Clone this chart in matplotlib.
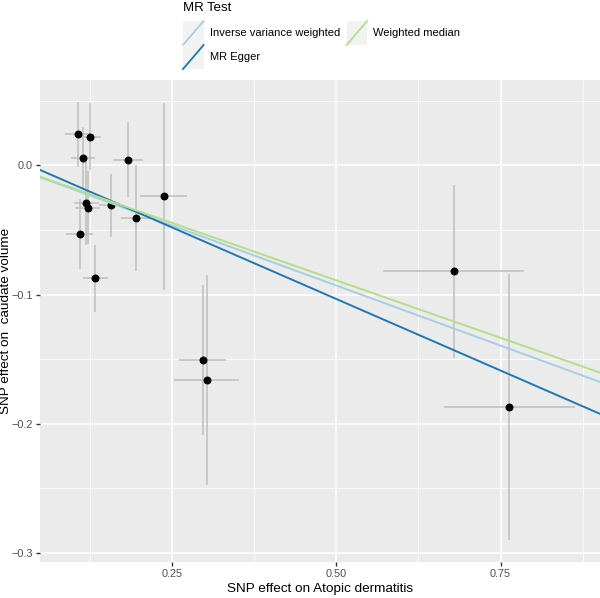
import matplotlib.pyplot as plt
from matplotlib.legend_handler import HandlerBase
from matplotlib.lines import Line2D
from matplotlib.patches import Rectangle
from matplotlib.ticker import MultipleLocator, FuncFormatter

plt.rcParams['font.family'] = ['Liberation Sans', 'DejaVu Sans']

# SNP effects on exposure (Atopic dermatitis) and outcome (caudate volume)
beta_exp = [0.107, 0.125, 0.115, 0.183, 0.238, 0.195, 0.157, 0.120, 0.122, 0.110,
            0.134, 0.679, 0.763, 0.297, 0.303]
beta_out = [0.024, 0.022, 0.0054, 0.0044, -0.024, -0.0406, -0.031, -0.0295, -0.0328,
            -0.0532, -0.0876, -0.082, -0.187, -0.151, -0.166]
se_exp = [0.0186, 0.0178, 0.0178, 0.023, 0.0356, 0.0218, 0.018, 0.019, 0.0196, 0.0208,
          0.019, 0.107, 0.0996, 0.036, 0.05]
se_out = [0.025, 0.026, 0.0245, 0.0288, 0.0725, 0.041, 0.0245, 0.032, 0.028, 0.027,
          0.0256, 0.0668, 0.103, 0.058, 0.081]

# MR estimates: method, intercept, slope, colour
methods = ['Inverse variance weighted', 'MR Egger', 'Weighted median']
intercepts = [0.0, 0.0074, 0.0]
slopes = [-0.186, -0.2216, -0.178]
colors = ['#a6cee3', '#1f78b4', '#b2df8a']


class DiagHandler(HandlerBase):
    # ggplot-style abline key: grey box with a diagonal line
    def create_artists(self, legend, orig_handle, xdescent, ydescent, width, height, fontsize, trans):
        x0, y0 = -xdescent, -ydescent
        bg = Rectangle((x0, y0), width, height, facecolor='#F2F2F2', edgecolor='none', transform=trans)
        ln = Line2D([x0, x0 + width], [y0, y0 + height], color=orig_handle.get_color(),
                    lw=1.3, transform=trans)
        return [bg, ln]


fig = plt.figure(figsize=(6, 5.98), dpi=100)
ax = fig.add_axes([40 / 600, 36 / 598, 560 / 600, 482 / 598])
ax.set_facecolor('#EBEBEB')

ax.errorbar(beta_exp, beta_out, yerr=se_out, fmt='none', ecolor='#BEBEBE', elinewidth=1.1, zorder=2)
ax.errorbar(beta_exp, beta_out, xerr=se_exp, fmt='none', ecolor='#BEBEBE', elinewidth=1.1, zorder=2)
ax.scatter(beta_exp, beta_out, s=22, color='black', zorder=3)

# ggplot-like 5% expansion of the data range
x_lo = min(b - s for b, s in zip(beta_exp, se_exp))
x_hi = max(b + s for b, s in zip(beta_exp, se_exp))
y_lo = min(b - s for b, s in zip(beta_out, se_out))
y_hi = max(b + s for b, s in zip(beta_out, se_out))
ax.set_xlim(x_lo - 0.05 * (x_hi - x_lo), x_hi + 0.05 * (x_hi - x_lo))
ax.set_ylim(y_lo - 0.05 * (y_hi - y_lo), y_hi + 0.05 * (y_hi - y_lo))
ax.set_autoscale_on(False)

handles = []
for m, a, b, c in zip(methods, intercepts, slopes, colors):
    ax.axline((0, a), slope=b, color=c, lw=1.4, zorder=4)
    handles.append(Line2D([], [], color=c, label=m))

ax.xaxis.set_major_locator(MultipleLocator(0.25))
ax.xaxis.set_minor_locator(MultipleLocator(0.125))
ax.yaxis.set_major_locator(MultipleLocator(0.1))
ax.yaxis.set_minor_locator(MultipleLocator(0.05))
ax.xaxis.set_major_formatter(FuncFormatter(lambda v, p: f'{v:.2f}'))
ax.yaxis.set_major_formatter(FuncFormatter(lambda v, p: f'{v:.1f}'.replace('-', '\u2212')))
ax.grid(which='major', color='white', lw=1.1, zorder=0)
ax.grid(which='minor', color='white', lw=0.55, zorder=0)
ax.set_axisbelow(True)
for s in ax.spines.values():
    s.set_visible(False)
ax.tick_params(which='major', length=3, width=1, color='#333333', labelsize=7.8, labelcolor='#4D4D4D', pad=2)
ax.tick_params(which='minor', length=0)

ax.set_xlabel('SNP effect on Atopic dermatitis', fontsize=9.7, labelpad=3)
ax.set_ylabel('SNP effect on  caudate volume', fontsize=9.7)
ax.yaxis.set_label_coords(-28 / 560, 0.5)

fig.text(183 / 600, 1 - 8 / 598, 'MR Test', fontsize=9.5, ha='left', va='center')
fig.legend(handles=handles, loc='upper left', bbox_to_anchor=(183 / 600, 1 - 21 / 598), ncol=2,
           fontsize=8, frameon=False, handler_map={Line2D: DiagHandler()},
           handlelength=1.85, handleheight=2.95, labelspacing=0.0, handletextpad=0.55,
           columnspacing=0.6, borderpad=0, borderaxespad=0)

fig.savefig('out.png', dpi=100)
